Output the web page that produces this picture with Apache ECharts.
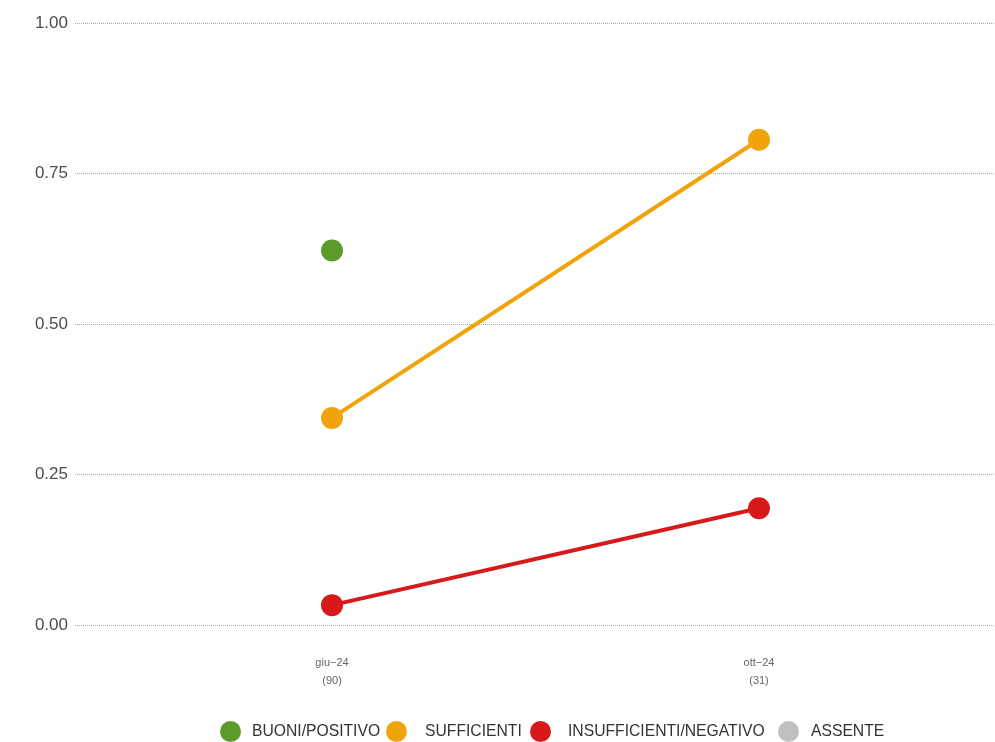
<!DOCTYPE html>
<html>
<head>
<meta charset="utf-8">
<script src="https://cdn.jsdelivr.net/npm/echarts@6/dist/echarts.min.js"></script>
<style>html,body{margin:0;padding:0;background:#fff;}#c{width:995px;height:742px;}</style>
</head>
<body>
<div id="c"></div>
<script>
const categories = ['giu\u221224\n(90)', 'ott\u221224\n(31)'];
const seriesNames = ['BUONI/POSITIVO', 'SUFFICIENTI', 'INSUFFICIENTI/NEGATIVO', 'ASSENTE'];
const buoni = [0.622, null];
const sufficienti = [0.344, 0.806];
const insufficienti = [0.033, 0.194];
const assente = [null, null];
const yTicks = [0, 0.25, 0.5, 0.75, 1];

const colors = ['#5c9a29', '#f0a30a', '#d7191c', '#c0c0c0'];
const allVals = [buoni, sufficienti, insufficienti, assente];
const legendLeft = [220, 386, 530, 778];
const legendTextPad = [6, 13, 12, 7];

const chart = echarts.init(document.getElementById('c'), null, {renderer: 'canvas'});
const toPts = arr => arr.map((v, i) => [i, v]);
chart.setOption({
  animation: false,
  grid: {left: 75, right: 0, top: 23, bottom: 117, containLabel: false},
  xAxis: {
    type: 'value',
    min: -0.6019,
    max: 1.5527,
    axisLine: {show: false},
    axisTick: {show: false},
    splitLine: {show: false},
    axisLabel: {
      customValues: categories.map((c, i) => i),
      formatter: v => categories[Math.round(v)] || '',
      color: '#666',
      fontFamily: 'Arial, Liberation Sans, sans-serif',
      fontSize: 11,
      lineHeight: 18,
      margin: 29,
      align: 'center'
    }
  },
  yAxis: {
    type: 'value',
    min: 0,
    max: 1,
    interval: 0.25,
    axisLine: {show: false},
    axisTick: {show: false},
    axisLabel: {
      formatter: v => v.toFixed(2),
      color: '#4d4d4d',
      fontFamily: 'Arial, Liberation Sans, sans-serif',
      fontSize: 17,
      margin: 7
    },
    splitLine: {lineStyle: {color: '#aaa', type: [1, 1], width: 1}}
  },
  legend: seriesNames.map((n, k) => ({
    top: 721,
    left: legendLeft[k],
    padding: 0,
    icon: 'circle',
    itemWidth: 21,
    itemHeight: 21,
    textStyle: {color: '#333', fontSize: 15.7, fontFamily: 'Arial, Liberation Sans, sans-serif', padding: [0, 0, 0, legendTextPad[k]]},
    data: [n]
  })),
  series: seriesNames.map((n, k) => ({
    name: n,
    type: 'line',
    data: toPts(allVals[k]),
    symbol: 'circle',
    symbolSize: 22,
    showSymbol: true,
    connectNulls: false,
    color: colors[k],
    lineStyle: {width: 4, color: colors[k]},
    itemStyle: {color: colors[k]},
    emphasis: {disabled: true}
  }))
});
</script>
</body>
</html>
